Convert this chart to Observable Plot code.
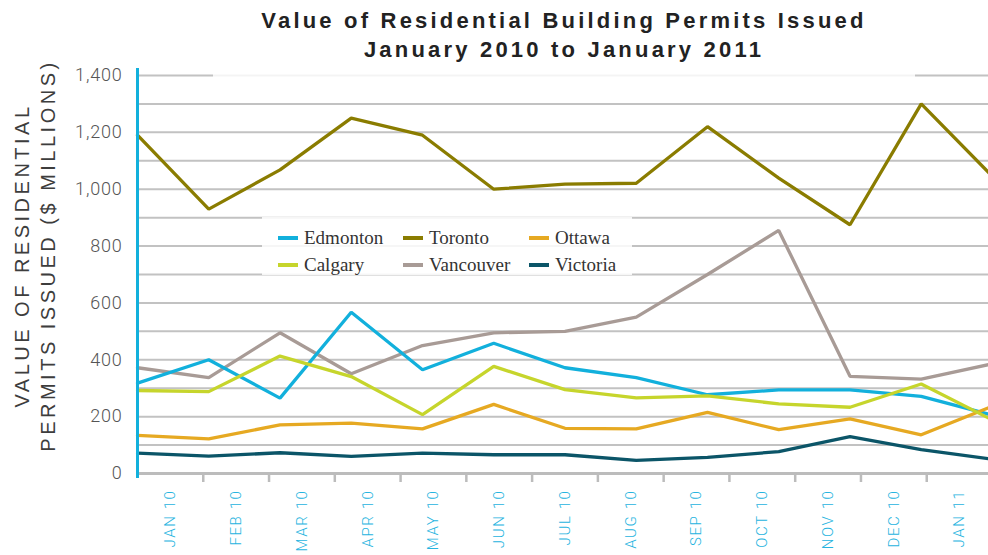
<!DOCTYPE html>
<html>
<head>
<meta charset="utf-8">
<script src="https://cdn.jsdelivr.net/npm/d3@7"></script>
<script src="https://cdn.jsdelivr.net/npm/@observablehq/plot@0.6"></script>
<style>
  html, body { margin: 0; padding: 0; background: #fff; overflow: hidden; }
  #wrap { position: relative; width: 988px; height: 555px; }
  #title {
    position: absolute; left: 213px; top: 0; width: 702px; height: 80px;
    background: rgba(255,255,255,0.82); z-index: 2;
    font-family: "Liberation Sans", Arial, sans-serif; font-weight: bold;
    font-size: 22px; letter-spacing: 3.2px; color: #222; text-align: center;
    line-height: 29px; padding-top: 6px; box-sizing: border-box;
  }
  #legend {
    position: absolute; left: 262px; top: 217px; width: 370px; height: 58px;
    background: rgba(255,255,255,0.85); z-index: 2;
    display: grid; grid-template-columns: 125px 126px 119px; grid-auto-rows: 27px;
    padding: 7px 0 0 16px; box-sizing: border-box;
    font-family: "Liberation Serif", "DejaVu Serif", serif; font-size: 19px; color: #333;
  }
  #legend .item { display: flex; align-items: center; white-space: nowrap; }
  #legend .sw { width: 20px; height: 4px; margin-right: 6px; }
  svg { position: absolute; left: 0; top: 0; }
</style>
</head>
<body>
<div id="wrap">
  <div id="title">Value of Residential Building Permits Issued<br>January 2010 to January 2011</div>
  <div id="legend"></div>
</div>
<script>
const months = ["JAN 10","FEB 10","MAR 10","APR 10","MAY 10","JUN 10","JUL 10","AUG 10","SEP 10","OCT 10","NOV 10","DEC 10","JAN 11"];
const cities = ["Edmonton","Toronto","Ottawa","Calgary","Vancouver","Victoria"];
const colors = ["#12b0dc","#8a7c00","#e6a922","#c6d52c","#a89b96","#0b5568"];
const edmonton  = [318, 400, 265, 567, 365, 458, 372, 337, 277, 294, 294, 271, 205];
const toronto   = [1190, 930, 1068, 1250, 1190, 1000, 1018, 1021, 1220, 1039, 875, 1300, 1045];
const ottawa    = [134, 122, 171, 177, 157, 243, 159, 157, 215, 154, 192, 136, 237];
const calgary   = [292, 288, 413, 341, 207, 377, 295, 266, 273, 245, 233, 315, 188];
const vancouver = [372, 337, 495, 351, 450, 495, 500, 550, 700, 855, 342, 332, 386];
const victoria  = [72, 61, 73, 60, 72, 66, 66, 46, 57, 77, 130, 84, 50];
const yTicks = [0, 200, 400, 600, 800, 1000, 1200, 1400];
const gridValues = [0, 100, 200, 300, 400, 500, 600, 700, 800, 900, 1000, 1100, 1200, 1300, 1400];
const yLabel = "VALUE OF RESIDENTIAL\nPERMITS ISSUED ($ MILLIONS)";

const series = {Edmonton: edmonton, Toronto: toronto, Ottawa: ottawa, Calgary: calgary, Vancouver: vancouver, Victoria: victoria};
const drawOrder = ["Vancouver", "Toronto", "Edmonton", "Ottawa", "Calgary", "Victoria"];
const rows = drawOrder.flatMap(c => series[c].map((v, i) => ({city: c, i, value: v})));

// 13 category bands on the axis vs. 13 data points spread over the same width
const n = months.length;
const span = n - 1;
const tickPos = d3.range(1, n).map(k => k * span / n);
const labelPos = d3.range(0, n).map(k => (k + 0.5) * span / n);

const chart = Plot.plot({
  width: 988,
  height: 555,
  marginTop: 75,
  marginBottom: 82,
  marginLeft: 137,
  marginRight: 0,
  style: {background: "transparent", fontFamily: "Roboto, 'Liberation Sans', sans-serif"},
  x: {type: "linear", domain: [0, span], range: [137, 992], label: null, axis: null},
  y: {domain: [0, 1400], label: null, axis: null},
  color: {domain: cities, range: colors},
  marks: [
    Plot.ruleY(gridValues, {stroke: "#c2c2c2", strokeWidth: 2}),
    Plot.ruleY([0], {stroke: "#bcbcbc", strokeWidth: 3}),
    Plot.axisX({ticks: tickPos, tickSize: 9, tickFormat: () => "", label: null, stroke: "#bcbcbc", strokeWidth: 2.5}),
    Plot.axisX({ticks: labelPos, tickSize: 0, tickPadding: 16, tickRotate: -90, label: null,
      tickFormat: d => months[Math.round(d * n / span - 0.5)],
      fill: "#26b4e0", fontSize: 15, fontWeight: 300}),
    Plot.axisY({ticks: yTicks, tickSize: 0, tickPadding: 15, tickFormat: d3.format(","), label: null,
      fill: "#555", fontSize: 18, fontWeight: 300}),
    Plot.line(rows, {x: "i", y: "value", z: "city", stroke: "city", strokeWidth: 3.3, strokeLinejoin: "miter"}),
    Plot.ruleX([0], {stroke: "#12b0dc", strokeWidth: 3, insetTop: -7, insetBottom: -5}),
    Plot.text([yLabel], {frameAnchor: "left", textAnchor: "middle", rotate: -90, dx: -104, dy: -19, lineHeight: 1.3,
      fontSize: 20, fill: "#3d3d3d", fontFamily: "'Liberation Sans', Arial, sans-serif"})
  ]
});
document.getElementById("wrap").appendChild(chart);

const sel = d3.select(chart).selectAll("text");
sel.filter(function() { return this.textContent.startsWith("VALUE"); }).style("letter-spacing", "3.5px");
sel.filter(function() { return months.includes(this.textContent); }).style("letter-spacing", "1.6px");
sel.filter(function() { return /^[\d,]+$/.test(this.textContent); }).style("letter-spacing", "0.8px");

const legend = document.getElementById("legend");
cities.forEach((c, j) => {
  const item = document.createElement("div");
  item.className = "item";
  const sw = document.createElement("span");
  sw.className = "sw";
  sw.style.background = colors[j];
  item.appendChild(sw);
  item.appendChild(document.createTextNode(c));
  legend.appendChild(item);
});
</script>
</body>
</html>
